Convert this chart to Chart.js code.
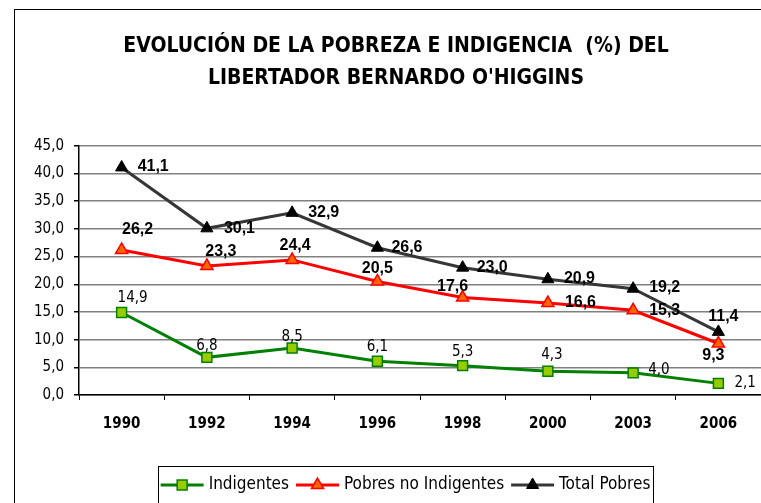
<!DOCTYPE html>
<html>
<head>
<meta charset="utf-8">
<script src="https://cdn.jsdelivr.net/npm/chart.js@4.4.0/dist/chart.umd.min.js"></script>
<style>
    html, body { margin: 0; padding: 0; background: #fff; overflow: hidden; }
    #wrap { position: relative; width: 761px; height: 503px; overflow: hidden; }
    #frame { position: absolute; left: 14px; top: 9px; width: 900px; height: 700px; border-left: 1px solid #000; border-top: 1px solid #000; }
    canvas { position: absolute; left: 0; top: 0; }
</style>
</head>
<body>
<div id="wrap">
    <div id="frame"></div>
    <canvas id="chart" width="761" height="503"></canvas>
</div>
<script>
/* ---------------- données ---------------- */

const YEARS = ['1990', '1992', '1994', '1996', '1998', '2000', '2003', '2006'];
const INDIGENTES = [14.9, 6.8, 8.5, 6.1, 5.3, 4.3, 4.0, 2.1];
const POBRES_NO_INDIGENTES = [26.2, 23.3, 24.4, 20.5, 17.6, 16.6, 15.3, 9.3];
const TOTAL_POBRES = [41.1, 30.1, 32.9, 26.6, 23.0, 20.9, 19.2, 11.4];
const SERIES_NAMES = ['Indigentes', 'Pobres no Indigentes', 'Total Pobres'];
const TITLE_LINES = ['EVOLUCIÓN DE LA POBREZA E INDIGENCIA  (%) DEL', "LIBERTADOR BERNARDO O'HIGGINS"];
const Y_MIN = 0, Y_MAX = 45, Y_STEP = 5;

/* ---------------- style ---------------- */

const NARROW = "'Liberation Sans Narrow', 'Arial Narrow', 'DejaVu Sans Condensed', sans-serif";
const WIDE = "'Liberation Sans', Arial, sans-serif";

// placement des étiquettes : [dx, dy, align]
const POS_INDIG = [[11, -14, 'center'], [0, -11, 'center'], [0, -11, 'center'], [0, -14, 'center'],
                   [0, -14, 'center'], [4, -16, 'center'], [15, -3, 'left'], [16, 0, 'left']];
const POS_POBRES = [[16, -20, 'center'], [14, -14, 'center'], [3, -14, 'center'], [0, -13, 'center'],
                    [-10, -11, 'center'], [17, 0, 'left'], [16, 0, 'left'], [-5, 12, 'center']];
const POS_TOTAL = [[16, -1, 'left'], [17, 0, 'left'], [16, 0, 'left'], [14, 0, 'left'],
                   [14, 0, 'left'], [16, -1, 'left'], [16, -1, 'left'], [5, -15, 'center']];

Chart.defaults.font.family = NARROW;
Chart.defaults.color = '#000';

function fmt(v) {
    return v.toFixed(1).replace('.', ',');
}

/* ---------------- plugins ---------------- */

const valueLabels = {
    id: 'valueLabels',
    afterDatasetsDraw(chart) {
        const ctx = chart.ctx;
        chart.data.datasets.forEach((ds, i) => {
            const meta = chart.getDatasetMeta(i);
            ctx.save();
            ctx.font = ds.labelFont;
            ctx.fillStyle = '#000';
            ctx.textBaseline = 'middle';
            meta.data.forEach((pt, j) => {
                const p = ds.labelPos[j];
                ctx.textAlign = p[2];
                ctx.fillText(fmt(ds.data[j]), pt.x + p[0], pt.y + p[1]);
            });
            ctx.restore();
        });
    }
};

const boxLegend = {
    id: 'boxLegend',
    afterDraw(chart) {
        const ctx = chart.ctx;
        const boxLeft = 158, boxTop = 466, boxW = 495, boxH = 60;
        const lineW = 43, gapText = 5, gapItem = 7, cy = 485;
        ctx.save();
        ctx.strokeStyle = '#000';
        ctx.lineWidth = 1;
        ctx.strokeRect(boxLeft + 0.5, boxTop + 0.5, boxW, boxH);
        ctx.font = '17px ' + NARROW;
        const widths = chart.data.datasets.map(ds => ctx.measureText(ds.label).width);
        const total = widths.reduce((a, w) => a + lineW + gapText + w, 0) + gapItem * (widths.length - 1);
        let x = boxLeft + boxW / 2 - total / 2;
        chart.data.datasets.forEach((ds, i) => {
            ctx.strokeStyle = ds.borderColor;
            ctx.lineWidth = 3;
            ctx.beginPath();
            ctx.moveTo(x, cy);
            ctx.lineTo(x + lineW, cy);
            ctx.stroke();
            ctx.fillStyle = ds.pointBackgroundColor;
            ctx.strokeStyle = ds.pointBorderColor;
            ctx.lineWidth = ds.pointBorderWidth;
            Chart.helpers.drawPoint(ctx, { pointStyle: ds.pointStyle, radius: ds.pointRadius, rotation: 0, borderWidth: ds.pointBorderWidth }, x + lineW / 2, cy);
            ctx.fillStyle = '#000';
            ctx.textAlign = 'left';
            ctx.textBaseline = 'middle';
            ctx.fillText(ds.label, x + lineW + gapText, cy);
            x += lineW + gapText + widths[i] + gapItem;
        });
        ctx.restore();
    }
};

/* ---------------- graphique ---------------- */

new Chart(document.getElementById('chart'), {
    type: 'line',
    data: {
        labels: YEARS,
        datasets: [
            {
                label: SERIES_NAMES[0],
                data: INDIGENTES,
                borderColor: '#008000',
                borderWidth: 3,
                pointStyle: 'rect',
                pointRadius: 7,
                pointBackgroundColor: '#99cc00',
                pointBorderColor: '#008000',
                pointBorderWidth: 1.5,
                labelFont: '15px ' + NARROW,
                labelPos: POS_INDIG
            },
            {
                label: SERIES_NAMES[1],
                data: POBRES_NO_INDIGENTES,
                borderColor: '#ff0000',
                borderWidth: 3,
                pointStyle: 'triangle',
                pointRadius: 7,
                pointBackgroundColor: '#ff6600',
                pointBorderColor: '#ff0000',
                pointBorderWidth: 1.5,
                labelFont: 'bold 16px ' + WIDE,
                labelPos: POS_POBRES
            },
            {
                label: SERIES_NAMES[2],
                data: TOTAL_POBRES,
                borderColor: '#363636',
                borderWidth: 3,
                pointStyle: 'triangle',
                pointRadius: 7,
                pointBackgroundColor: '#000',
                pointBorderColor: '#000',
                pointBorderWidth: 1,
                labelFont: 'bold 16px ' + WIDE,
                labelPos: POS_TOTAL
            }
        ]
    },
    options: {
        responsive: false,
        animation: false,
        layout: { autoPadding: false, padding: { left: 31, right: 0, top: 0, bottom: 58 } },
        plugins: {
            legend: { display: false },
            tooltip: { enabled: false },
            title: {
                display: true,
                text: TITLE_LINES,
                color: '#000',
                font: { size: 21, weight: 'bold', family: NARROW, lineHeight: 1.52 },
                padding: { top: 31, bottom: 51 }
            }
        },
        scales: {
            x: {
                offset: true,
                grid: { offset: true, drawOnChartArea: false, drawTicks: true, tickLength: 5, color: '#000' },
                border: { color: '#000', width: 1.5 },
                ticks: { font: { size: 15, weight: 'bold' }, padding: 15, color: '#000' },
                afterFit(scale) { scale.height = 50; }
            },
            y: {
                min: Y_MIN,
                max: Y_MAX,
                grid: { color: '#808080', lineWidth: 1.5, tickLength: 5, tickColor: '#000' },
                border: { color: '#000', width: 1.5 },
                ticks: { stepSize: Y_STEP, font: { size: 15 }, padding: 10, color: '#000', callback: v => fmt(v) },
                afterFit(scale) { scale.width = 48; }
            }
        }
    },
    plugins: [valueLabels, boxLegend]
});
</script>
</body>
</html>
